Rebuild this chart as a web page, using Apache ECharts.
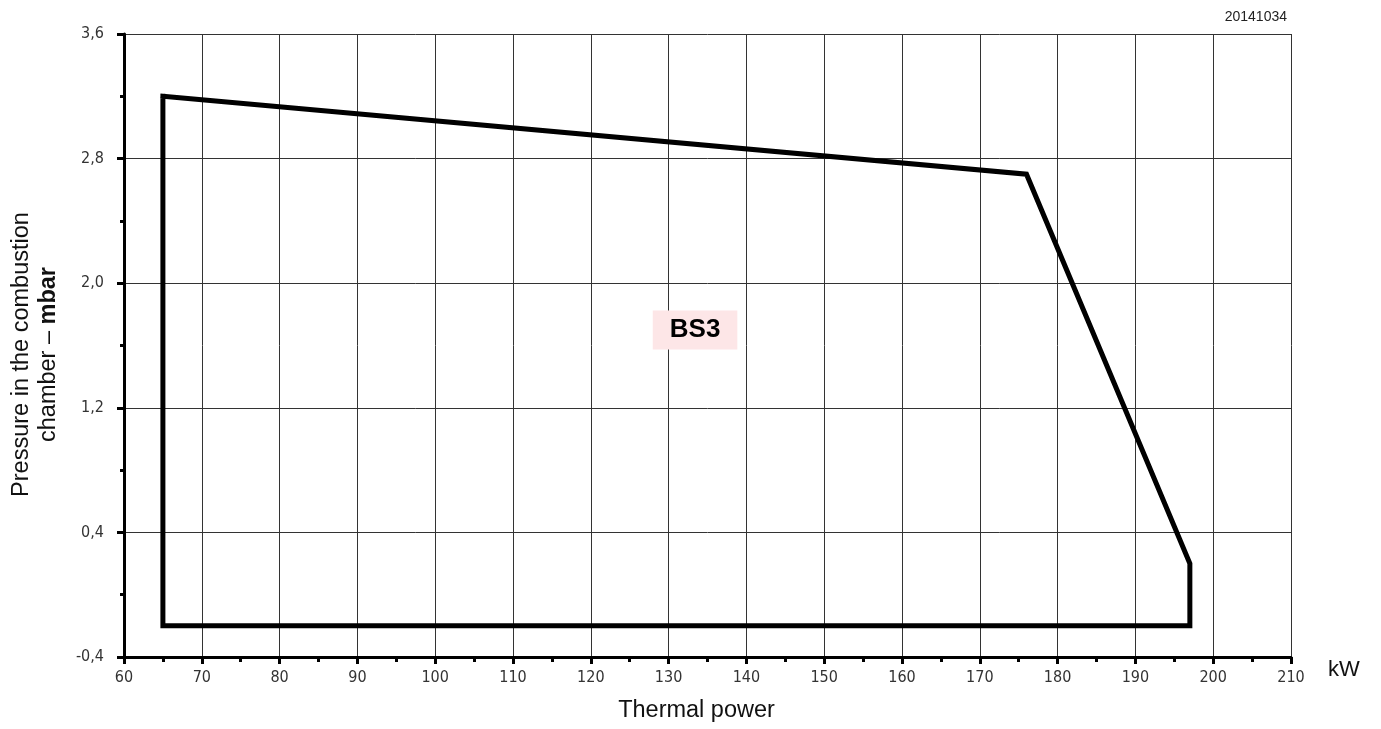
<!DOCTYPE html>
<html><head><meta charset="utf-8">
<script src="https://cdn.jsdelivr.net/npm/echarts@6/dist/echarts.min.js"></script>
<style>html,body{margin:0;padding:0;background:#fff}#c{width:1381px;height:729px}</style>
</head><body><div id="c"></div>
<script>
// Data
const chartCode = '20141034';
const xAxisName = 'Thermal power';
const xUnit = 'kW';
const areaLabel = 'BS3';
const labelPos = [133.4, 1.7];
const powerKW = [65, 176, 197, 197, 65, 65];
const pressureMbar = [3.2, 2.7, 0.2, -0.2, -0.2, 3.2];
const xRange = [60, 210, 10];
const yRange = [-0.4, 3.6, 0.8];

const narrow = "'Liberation Sans Narrow', 'DejaVu Sans Condensed', 'Arial Narrow', sans-serif";
const sans = "'Liberation Sans', Arial, sans-serif";
const chart = echarts.init(document.getElementById('c'));
const fmt = v => (Math.round(v * 10) / 10).toFixed(1).replace('.', ',');

chart.setOption({
  animation: false,
  title: {
    text: chartCode, right: 89, top: 5,
    textStyle: { fontFamily: sans, fontSize: 14, fontWeight: 'normal', color: '#222' }
  },
  grid: { left: 124, right: 90, top: 34, bottom: 72, show: false },
  graphic: [{
    type: 'text', left: 1328, top: 659,
    style: { text: xUnit, fontFamily: sans, fontSize: 22, fill: '#111' }
  }],
  xAxis: {
    type: 'value', min: xRange[0], max: xRange[1], interval: xRange[2],
    name: xAxisName, nameLocation: 'middle', nameGap: 42,
    nameTextStyle: { fontFamily: sans, fontSize: 23.5, color: '#111', padding: [0, 22, 0, 0] },
    axisLine: { show: true, onZero: false, lineStyle: { color: '#000', width: 3 } },
    axisTick: { show: true, inside: false, length: 7, lineStyle: { color: '#000', width: 3 } },
    minorTick: { show: true, splitNumber: 2, length: 5, lineStyle: { color: '#000', width: 3 } },
    axisLabel: { fontFamily: narrow, fontSize: 16, color: '#333', margin: 13 },
    splitLine: { show: true, lineStyle: { color: '#333', width: 1 } }
  },
  yAxis: {
    type: 'value', min: yRange[0], max: yRange[1], interval: yRange[2],
    name: '{a|Pressure in the combustion}\n{a|chamber – }{b|mbar}',
    nameLocation: 'middle', nameGap: 62, nameRotate: 90,
    nameTextStyle: {
      fontFamily: sans, fontSize: 23.5, color: '#111', lineHeight: 27, padding: [0, 18, 0, 0],
      rich: {
        a: { fontFamily: sans, fontSize: 23.5, color: '#111', lineHeight: 27 },
        b: { fontFamily: sans, fontSize: 23.5, color: '#111', fontWeight: 'bold', lineHeight: 27 }
      }
    },
    axisLine: { show: true, onZero: false, lineStyle: { color: '#000', width: 3 } },
    axisTick: { show: true, inside: false, length: 7, lineStyle: { color: '#000', width: 3 } },
    minorTick: { show: true, splitNumber: 2, length: 4, lineStyle: { color: '#000', width: 3 } },
    axisLabel: { fontFamily: narrow, fontSize: 16, color: '#333', margin: 20, formatter: fmt },
    splitLine: { show: true, lineStyle: { color: '#333', width: 1 } }
  },
  series: [{
    type: 'line',
    data: powerKW.map((x, i) => [x, pressureMbar[i]]),
    showSymbol: false, symbol: 'none',
    lineStyle: { color: '#000', width: 5, join: 'miter', cap: 'square' },
    z: 5
  }, {
    type: 'scatter',
    data: [labelPos],
    symbolSize: 0,
    silent: true,
    itemStyle: { opacity: 1 },
    label: {
      show: true, position: 'inside', formatter: areaLabel,
      fontFamily: sans, fontSize: 26, fontWeight: 'bold', color: '#000',
      backgroundColor: '#fde6e7', padding: [7, 17, 6, 17]
    },
    z: 6
  }]
});
</script></body></html>
